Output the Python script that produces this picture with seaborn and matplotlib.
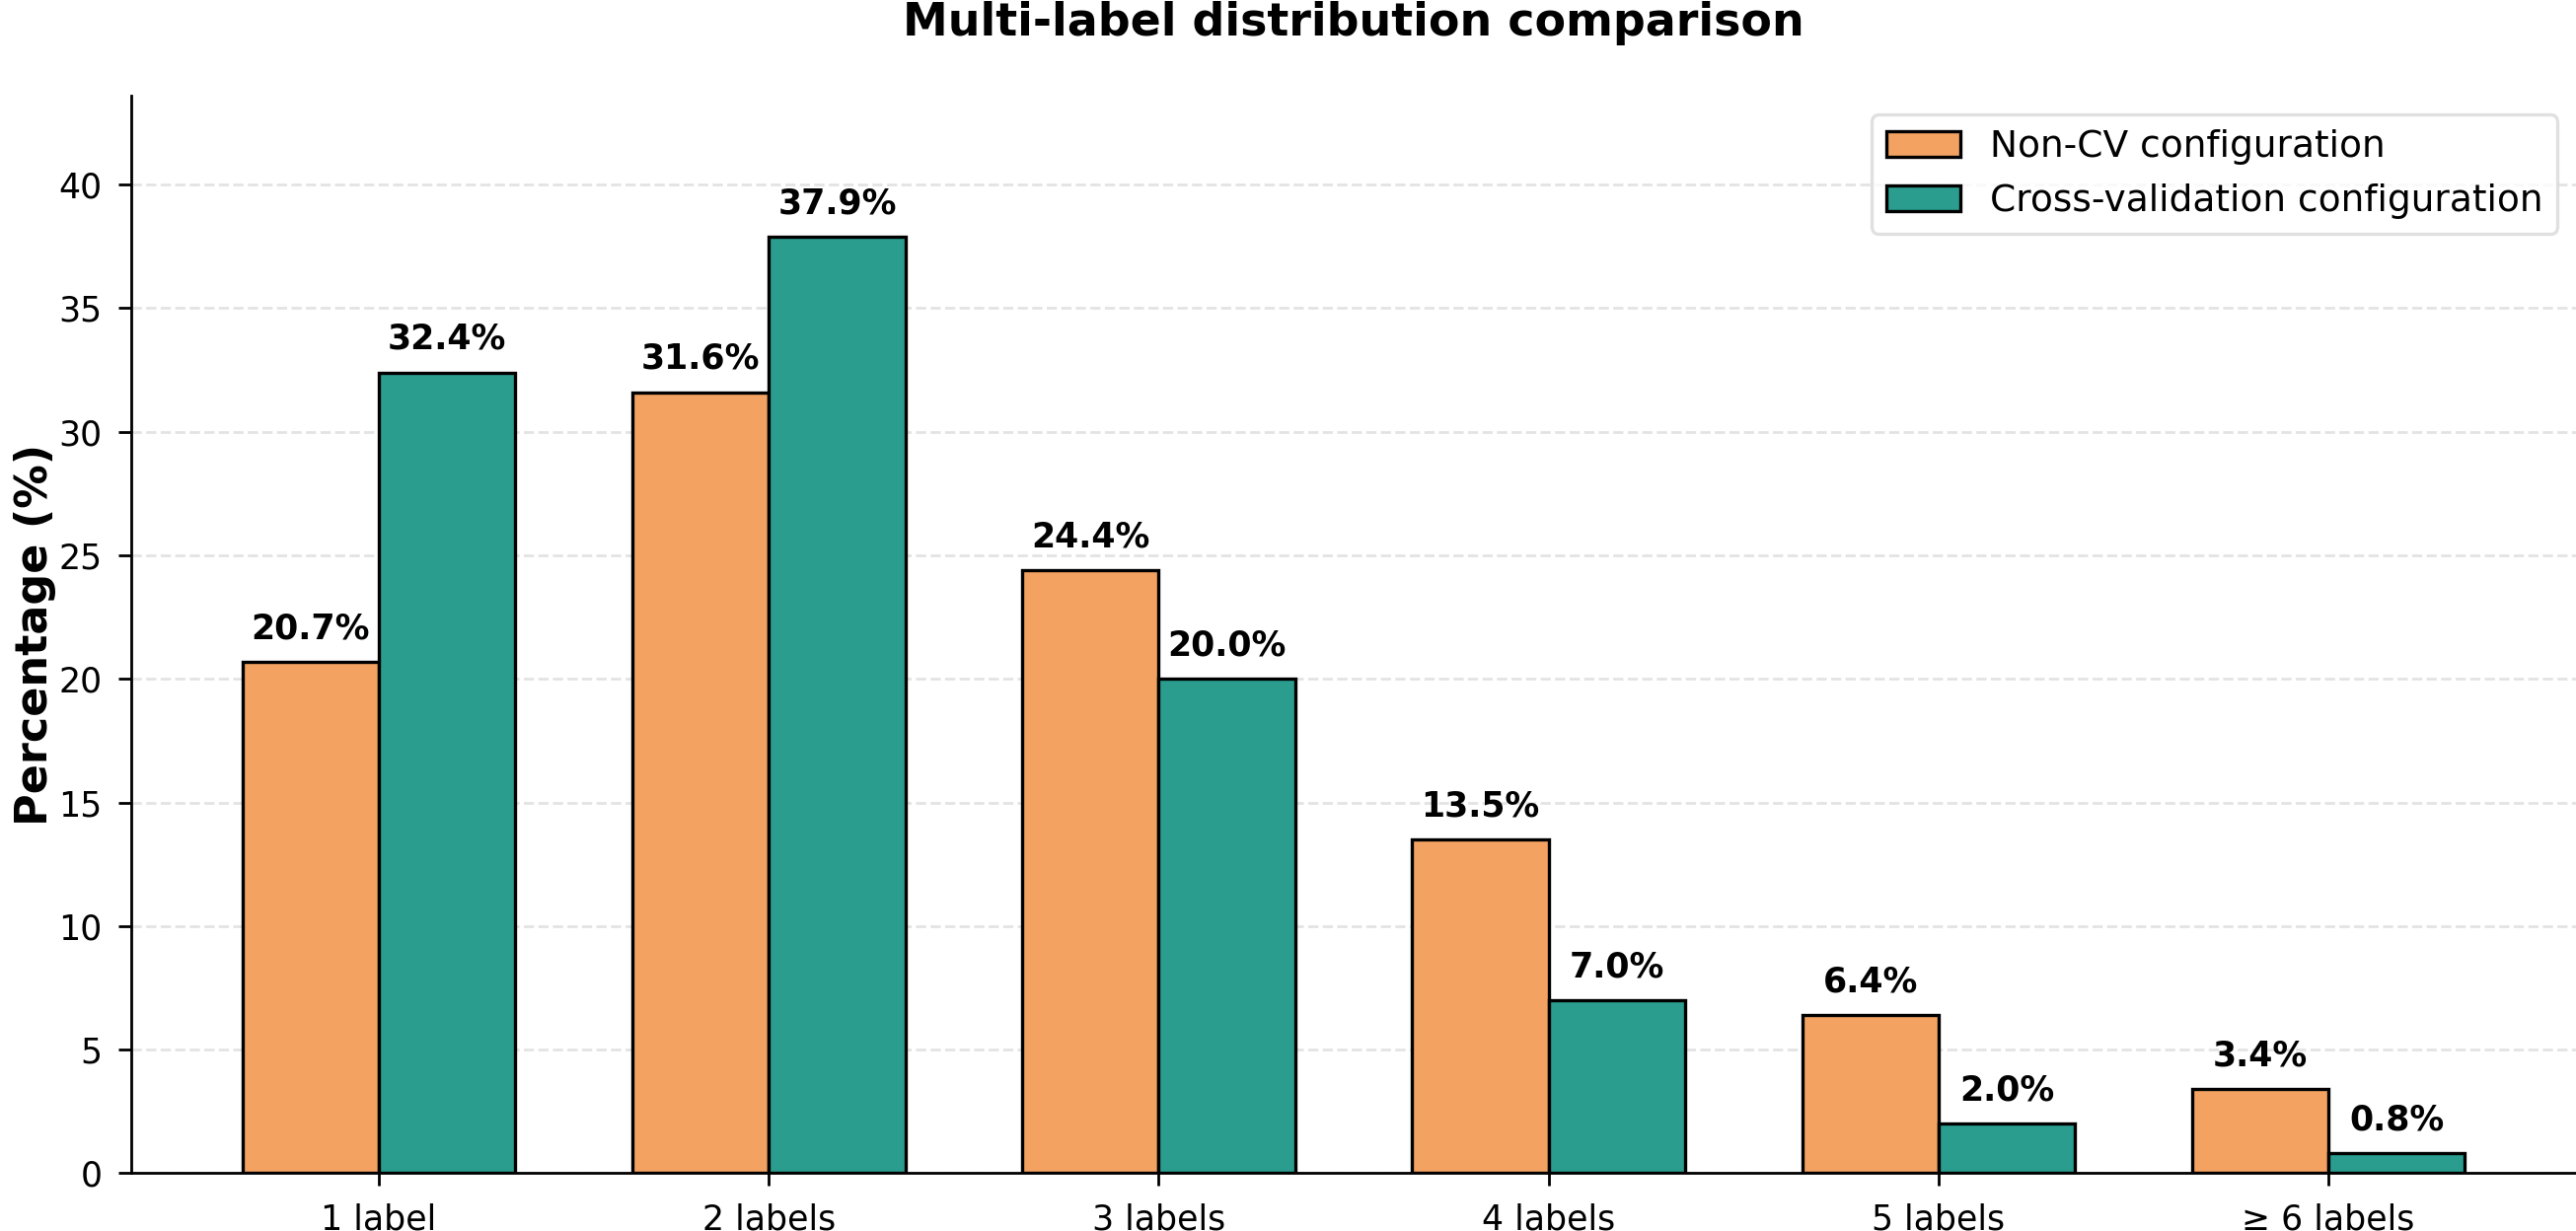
import matplotlib
matplotlib.use("Agg")
import matplotlib.pyplot as plt
import seaborn as sns
import pandas as pd

categories = ["1 label", "2 labels", "3 labels", "4 labels", "5 labels", "≥ 6 labels"]
non_cv = [20.7, 31.6, 24.4, 13.5, 6.4, 3.4]
cross_val = [32.4, 37.9, 20.0, 7.0, 2.0, 0.8]
series_names = ["Non-CV configuration", "Cross-validation configuration"]
colors = ["#F4A261", "#2A9D8F"]

df = pd.DataFrame({
    "category": categories * 2,
    "value": non_cv + cross_val,
    "series": [series_names[0]] * len(categories) + [series_names[1]] * len(categories),
})

sns.set_style("ticks")
plt.rcParams['font.family'] = ['DejaVu Sans']
plt.rcParams.update({
    "text.color": "black", "axes.labelcolor": "black",
    "xtick.color": "black", "ytick.color": "black", "axes.edgecolor": "black",
})

fig = plt.figure(figsize=(13.055, 6.24), dpi=200)
ax = fig.add_axes([0.051, 0.047, 0.949, 0.875])

sns.barplot(data=df, x="category", y="value", hue="series", order=categories,
            hue_order=series_names, palette=colors, width=0.7, gap=0,
            edgecolor="black", linewidth=1.2, saturation=1, errorbar=None, ax=ax, zorder=3)

for cont in ax.containers:
    for bar in cont:
        h = bar.get_height()
        ax.annotate(f"{h:.1f}%", (bar.get_x() + bar.get_width() / 2, h),
                    xytext=(0, 6), textcoords="offset points", ha="center", va="bottom",
                    fontsize=12.5, fontweight="bold", color="black")

ax.set_ylim(0, max(max(non_cv), max(cross_val)) * 1.15)
ax.set_xlim(-0.635, 5.635)
ax.yaxis.grid(True, linestyle="--", color="#e3e3e3", linewidth=1.0, zorder=0)
ax.set_axisbelow(True)
sns.despine(ax=ax)
for s in ("left", "bottom"):
    ax.spines[s].set_linewidth(1.0)
ax.set_xlabel("")
ax.set_ylabel("Percentage (%)", fontsize=16, fontweight="bold", labelpad=0.8)
ax.tick_params(axis="both", labelsize=12.5, length=4.7, width=1.0, pad=6)
ax.set_title("Multi-label distribution comparison", fontsize=16.5, fontweight="bold", pad=22)
leg = ax.legend(loc="upper right", fontsize=13.5, frameon=True, fancybox=True,
                edgecolor="#d9d9d9")
leg.get_frame().set_linewidth(1.2)

fig.savefig("out.png", dpi=200)
